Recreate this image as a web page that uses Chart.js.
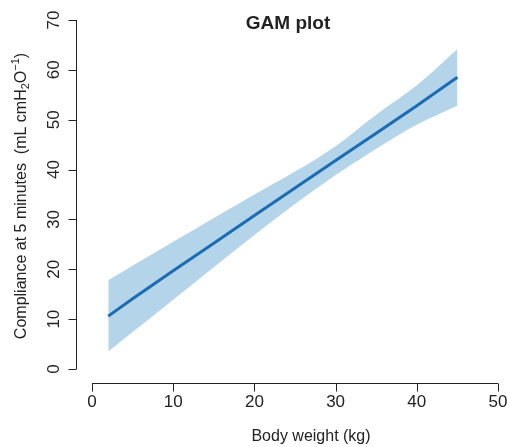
<!DOCTYPE html>
<html>
<head>
<meta charset="utf-8">
<script src="https://cdn.jsdelivr.net/npm/chart.js@4"></script>
<style>
  html, body { margin: 0; padding: 0; background: #fff; }
  canvas { display: block; }
</style>
</head>
<body>
<canvas id="gam" width="507" height="447"></canvas>
<script>
// --- data ---
const weights = [2, 5, 10, 15, 20, 25, 30, 35, 40, 45];
const fitLine = [10.6, 14.1, 19.7, 25.2, 30.8, 36.3, 41.8, 47.3, 52.8, 58.5];
const upperCI = [17.8, 20.7, 25.5, 30.3, 35.0, 39.6, 44.7, 51.0, 56.9, 64.2];
const lowerCI = [3.5, 7.4, 13.9, 20.4, 26.9, 33.1, 38.9, 44.2, 49.0, 52.8];
const xTicks = [0, 10, 20, 30, 40, 50];
const yTicks = [0, 10, 20, 30, 40, 50, 60, 70];

const pts = (ys) => weights.map((x, i) => ({ x, y: ys[i] }));
const INK = '#222';
const FONT = '"Liberation Sans", Arial, sans-serif';

// R-style detached axes drawn from the chart's own scales
const rAxes = {
    id: 'rAxes',
    afterDraw(chart) {
        const { ctx, scales: { x, y } } = chart;
        ctx.save();
        ctx.strokeStyle = INK;
        ctx.fillStyle = INK;
        ctx.lineWidth = 1;

        // y axis
        const ax = 76.5;
        ctx.beginPath();
        ctx.moveTo(ax, y.getPixelForValue(yTicks[0]));
        ctx.lineTo(ax, y.getPixelForValue(yTicks[yTicks.length - 1]));
        yTicks.forEach(v => {
            const py = Math.round(y.getPixelForValue(v)) + 0.5;
            ctx.moveTo(ax, py);
            ctx.lineTo(ax - 8, py);
        });
        ctx.stroke();
        ctx.font = '17px ' + FONT;
        ctx.textAlign = 'center';
        ctx.textBaseline = 'middle';
        yTicks.forEach(v => {
            ctx.save();
            ctx.translate(54, y.getPixelForValue(v));
            ctx.rotate(-Math.PI / 2);
            ctx.fillText(String(v), 0, 0);
            ctx.restore();
        });

        // x axis
        const ay = 383.5;
        ctx.beginPath();
        ctx.moveTo(x.getPixelForValue(xTicks[0]), ay);
        ctx.lineTo(x.getPixelForValue(xTicks[xTicks.length - 1]), ay);
        xTicks.forEach(v => {
            const px = Math.round(x.getPixelForValue(v)) + 0.5;
            ctx.moveTo(px, ay);
            ctx.lineTo(px, ay + 8);
        });
        ctx.stroke();
        xTicks.forEach(v => ctx.fillText(String(v), x.getPixelForValue(v), 402));

        // titles
        ctx.font = 'bold 19px ' + FONT;
        ctx.fillText('GAM plot', 288, 24);
        ctx.font = '16px ' + FONT;
        ctx.fillText('Body weight (kg)', 311, 437);

        // y title with sub/superscripts
        const parts = [
            { t: 'Compliance at 5 minutes  (mL cmH', s: 16, dy: 0 },
            { t: '2', s: 11, dy: 4 },
            { t: 'O', s: 16, dy: 0 },
            { t: '\u22121', s: 11, dy: -6 },
            { t: ')', s: 16, dy: 0 }
        ];
        let total = 0;
        parts.forEach(p => { ctx.font = p.s + 'px ' + FONT; p.w = ctx.measureText(p.t).width; total += p.w; });
        ctx.save();
        ctx.translate(22, 196);
        ctx.rotate(-Math.PI / 2);
        ctx.textAlign = 'left';
        let cx = -total / 2;
        parts.forEach(p => {
            ctx.font = p.s + 'px ' + FONT;
            ctx.fillText(p.t, cx, p.dy);
            cx += p.w;
        });
        ctx.restore();

        ctx.restore();
    }
};

new Chart(document.getElementById('gam'), {
    type: 'line',
    data: {
        datasets: [
            { label: 'fit', data: pts(fitLine), borderColor: '#1b6db3', borderWidth: 3,
              pointRadius: 0, fill: false, tension: 0, order: 0 },
            { label: 'upper', data: pts(upperCI), borderWidth: 0, borderColor: 'rgba(0,0,0,0)',
              backgroundColor: '#b4d4ea', pointRadius: 0, fill: '+1',
              cubicInterpolationMode: 'monotone', order: 1 },
            { label: 'lower', data: pts(lowerCI), borderWidth: 0, borderColor: 'rgba(0,0,0,0)',
              pointRadius: 0, fill: false, cubicInterpolationMode: 'monotone', order: 2 }
        ]
    },
    options: {
        responsive: false,
        devicePixelRatio: 1,
        animation: false,
        layout: { padding: { left: 92, right: 9, top: 20, bottom: 78 } },
        scales: {
            x: { type: 'linear', min: 0, max: 50, display: false },
            y: { type: 'linear', min: 0, max: 70, display: false }
        },
        plugins: { legend: { display: false }, tooltip: { enabled: false } }
    },
    plugins: [rAxes]
});
</script>
</body>
</html>
